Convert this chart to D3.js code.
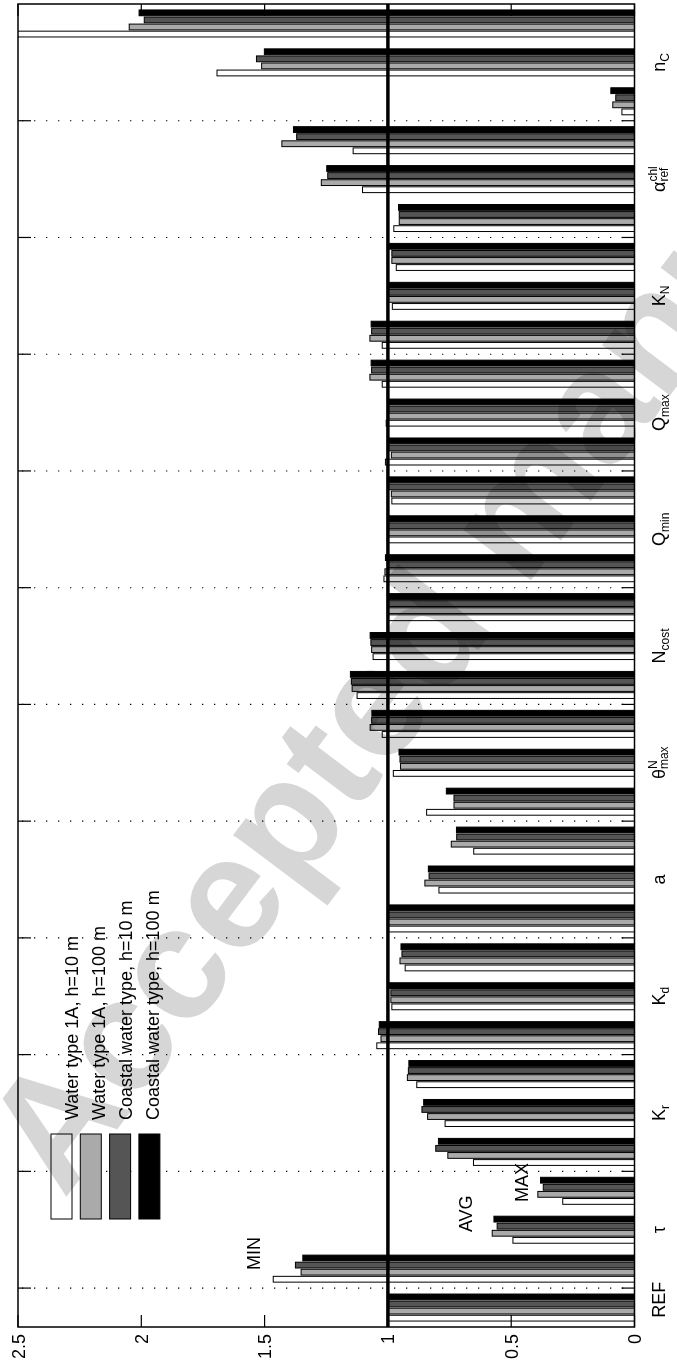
<!DOCTYPE html>
<html><head><meta charset="utf-8">
<script src="https://cdn.jsdelivr.net/npm/d3@7"></script>
<style>
html,body{margin:0;padding:0;background:#fff;}
svg{display:block;font-family:"Liberation Sans",Arial,Helvetica,sans-serif;}
</style></head><body>
<svg id="chart" width="677" height="1368"></svg>
<script>
// ---------- data ----------
const paramNames = ["REF","τ","K","K","a","θ","N","Q","Q","K","α","n"];
const paramSup   = ["","","","","","N","","","","","chl",""];
const paramSub   = ["","","r","d","","max","cost","min","max","N","ref","C"];
const seriesNames = ["Water type 1A, h=10 m","Water type 1A, h=100 m","Coastal water type, h=10 m","Coastal water type, h=100 m"];
// 34 groups: REF, then MIN/AVG/MAX for each parameter
const seriesW1A10 = [1.000, 1.465,0.493,0.291, 0.653,0.768,0.883, 1.045,0.984,0.930, 1.000,0.793,0.652, 0.843,0.978,1.023, 1.125,1.060,1.000, 1.016,1.000,0.984, 1.010,1.007,1.023, 1.023,0.982,0.966, 0.976,1.103,1.141, 0.051,1.693,2.600];
const seriesW1A100= [1.000, 1.352,0.577,0.392, 0.757,0.839,0.921, 1.028,0.988,0.951, 1.000,0.850,0.743, 0.732,0.949,1.072, 1.145,1.066,1.000, 1.012,1.000,0.986, 0.986,1.000,1.073, 1.073,1.000,0.984, 0.954,1.270,1.430, 0.088,1.512,2.049];
const seriesCW10  = [1.000, 1.375,0.557,0.370, 0.806,0.862,0.917, 1.038,0.988,0.943, 1.000,0.833,0.721, 0.732,0.951,1.066, 1.148,1.069,1.000, 1.000,1.000,1.000, 1.000,1.000,1.066, 1.066,1.000,0.984, 0.954,1.244,1.370, 0.076,1.533,1.988];
const seriesCW100 = [1.000, 1.345,0.570,0.381, 0.795,0.855,0.915, 1.035,0.993,0.947, 1.000,0.836,0.722, 0.763,0.955,1.065, 1.152,1.072,1.000, 1.010,1.000,1.000, 1.000,1.000,1.068, 1.068,1.000,0.993, 0.957,1.248,1.383, 0.096,1.501,2.009];
const valueTicks = [0,0.5,1,1.5,2,2.5];
const valueTickLabels = ["0","0.5","1","1.5","2","2.5"];
const annText = ["MIN","AVG","MAX"];
const annGroupPos = [1.965, 2.94, 3.71];
const annValue = [1.52, 0.66, 0.43];

// ---------- layout ----------
const plot = {left:18, right:634.5, top:4, bottom:1327};
const fills = ["#ffffff","#aaaaaa","#555555","#000000"];
const series = [seriesW1A10, seriesW1A100, seriesCW10, seriesCW100];
const nGroups = seriesW1A10.length;

const x = d3.scaleLinear().domain([0,2.5]).range([plot.right, plot.left]);
const y = d3.scaleLinear().domain([0.5, nGroups+0.5]).range([plot.bottom, plot.top]);

const svg = d3.select("#chart");
svg.append("rect").attr("width",677).attr("height",1368).attr("fill","#fff");
const defs = svg.append("defs");
defs.append("clipPath").attr("id","clip").append("rect")
  .attr("x",plot.left).attr("y",plot.top)
  .attr("width",plot.right-plot.left).attr("height",plot.bottom-plot.top);

// dotted separators between parameters
const sepTicks = d3.range(1.5, nGroups, 3);
svg.append("g").selectAll("line").data(sepTicks).enter().append("line")
  .attr("x1",plot.left).attr("x2",plot.right)
  .attr("y1",d=>y(d)).attr("y2",d=>y(d))
  .attr("stroke","#000").attr("stroke-width",1.1)
  .attr("stroke-dasharray","1.3,10.7").attr("stroke-dashoffset",-4);

// bars
const groupWidth = 0.727, pitch = groupWidth/4, barFrac = 0.82;
const barsG = svg.append("g").attr("clip-path","url(#clip)");
series.forEach((vals,k)=>{
  barsG.selectAll(null).data(vals).enter().append("rect")
    .attr("x",d=>x(d))
    .attr("width",d=>x(0)-x(d))
    .attr("y",(d,i)=>y(i+1+(k-1.5)*pitch + pitch*barFrac/2))
    .attr("height",(d,i)=>y(i+1+(k-1.5)*pitch - pitch*barFrac/2) - y(i+1+(k-1.5)*pitch + pitch*barFrac/2))
    .attr("fill",fills[k]).attr("stroke","#000").attr("stroke-width",1);
});

// reference line at 1
svg.append("line").attr("x1",x(1)).attr("x2",x(1)).attr("y1",plot.top).attr("y2",plot.bottom)
  .attr("stroke","#000").attr("stroke-width",3.5);

// frame
svg.append("rect").attr("x",plot.left).attr("y",plot.top)
  .attr("width",plot.right-plot.left).attr("height",plot.bottom-plot.top)
  .attr("fill","none").attr("stroke","#000").attr("stroke-width",1.5);

// value ticks (top & bottom, inward)
const tl = 12;
const vt = svg.append("g");
valueTicks.forEach(v=>{
  vt.append("line").attr("x1",x(v)).attr("x2",x(v)).attr("y1",plot.bottom).attr("y2",plot.bottom-tl).attr("stroke","#000").attr("stroke-width",1.2);
  vt.append("line").attr("x1",x(v)).attr("x2",x(v)).attr("y1",plot.top).attr("y2",plot.top+tl).attr("stroke","#000").attr("stroke-width",1.2);
});
// category ticks (left & right)
sepTicks.forEach(p=>{
  vt.append("line").attr("x1",plot.left).attr("x2",plot.left+13).attr("y1",y(p)).attr("y2",y(p)).attr("stroke","#000").attr("stroke-width",1.2);
  vt.append("line").attr("x1",plot.right).attr("x2",plot.right-13).attr("y1",y(p)).attr("y2",y(p)).attr("stroke","#000").attr("stroke-width",1.2);
});

// value tick labels
svg.append("g").selectAll("text").data(valueTicks).enter().append("text")
  .attr("transform",d=>`translate(${x(d)+6.5},${plot.bottom+7}) rotate(-90)`)
  .attr("text-anchor","end").attr("font-size",18).attr("fill","#000")
  .text((d,i)=>valueTickLabels[i]);

// category labels
const catG = svg.append("g");
paramNames.forEach((nm,i)=>{
  const pos = i===0 ? 1.2 : 3*i;
  const t = catG.append("text")
    .attr("transform",`translate(665,${y(pos)}) rotate(-90)`)
    .attr("text-anchor","middle").attr("font-size",18).attr("fill","#000");
  t.append("tspan").text(nm);
  const sup = paramSup[i], sub = paramSub[i];
  if (sup) {
    const s = t.append("tspan").attr("font-size",12).attr("dy",-8).text(sup);
    const w = s.node().getComputedTextLength();
    t.append("tspan").attr("font-size",12).attr("dx",-w).attr("dy",11).text(sub);
  } else if (sub) {
    t.append("tspan").attr("font-size",12).attr("dy",4).text(sub);
  }
});

// MIN / AVG / MAX annotations
annText.forEach((s,i)=>{
  svg.append("text")
    .attr("transform",`translate(${x(annValue[i])},${y(annGroupPos[i])}) rotate(-90)`)
    .attr("text-anchor","start").attr("font-size",18).attr("fill","#000").text(s);
});

// legend
const lg = svg.append("g");
seriesNames.forEach((nm,k)=>{
  lg.append("rect").attr("x",51+29.3*k).attr("y",1134).attr("width",21).attr("height",85)
    .attr("fill",fills[k]).attr("stroke","#000").attr("stroke-width",1);
  lg.append("text").attr("transform",`translate(${78+27*k},1120) rotate(-90)`)
    .attr("text-anchor","start").attr("font-size",18).attr("fill","#000").text(nm);
});

// watermark (clipped to the page, multiplied onto the chart)
defs.append("clipPath").attr("id","page").append("rect").attr("width",677).attr("height",1368);
svg.append("g").attr("clip-path","url(#page)").style("mix-blend-mode","multiply")
  .append("text")
  .attr("transform","translate(64,1200) rotate(-53)")
  .attr("font-size",160).attr("font-weight","bold").attr("fill","#d6d6d6")
  .text("Accepted manuscript");
</script>
</body></html>
